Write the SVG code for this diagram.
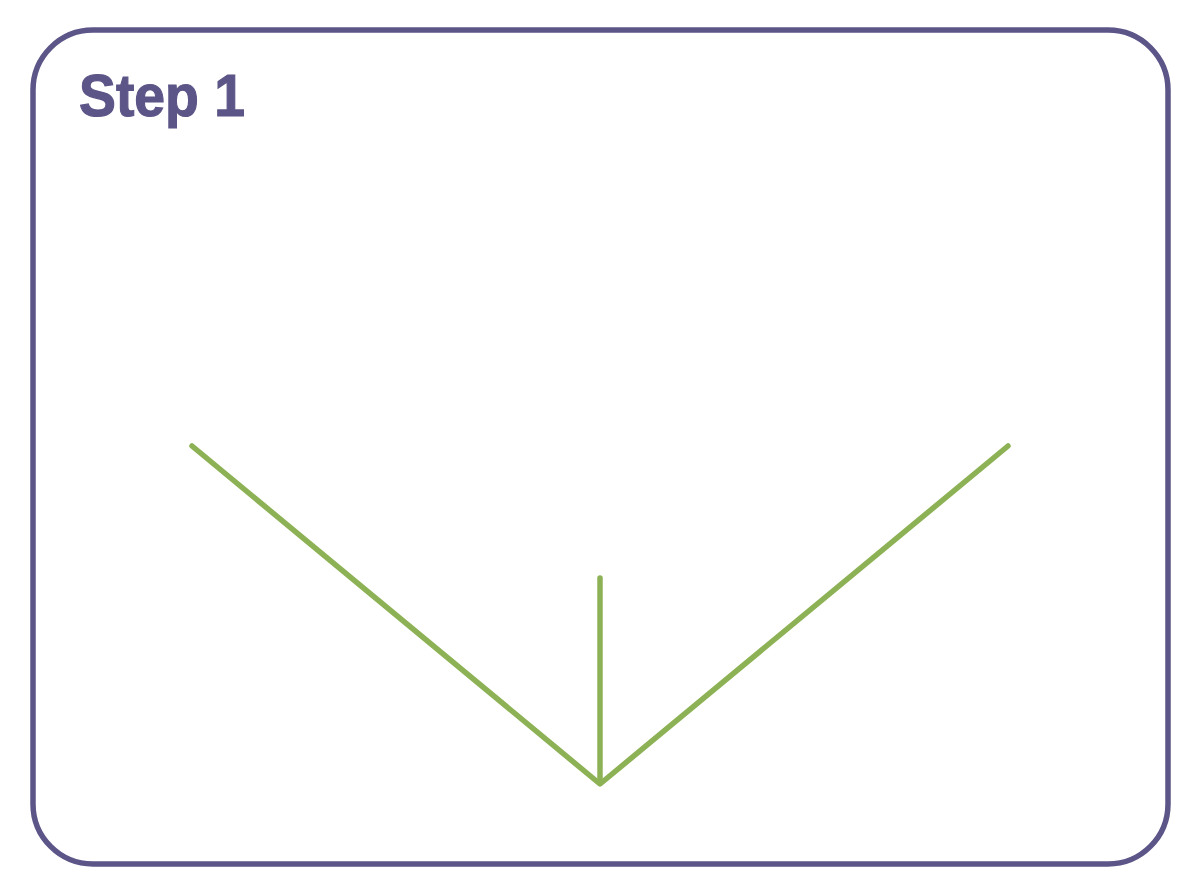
<svg xmlns="http://www.w3.org/2000/svg" width="1200" height="896" viewBox="0 0 1200 896">
<style>
.frame{fill:#fff;stroke:#5c5587;stroke-width:5.5}
.title{font-family:"Liberation Sans",Arial,sans-serif;font-weight:bold;font-size:60px;fill:#5c5587;stroke:#5c5587;stroke-width:1.2}
.stem{fill:none;stroke:#8db255;stroke-width:5.5;stroke-linecap:round;stroke-linejoin:round}
</style>
<rect width="1200" height="896" fill="#fff"/>
<g id="frame">
<rect class="frame" x="33" y="30" width="1135" height="834" rx="60" ry="60"/>
<text class="title" x="79" y="116" textLength="166" lengthAdjust="spacingAndGlyphs">Step 1</text>
</g>
<g id="connectors">
<polyline class="stem" points="192,446 600,784 1008,446"/>
<line class="stem" x1="600" y1="578" x2="600" y2="782"/>
</g>
</svg>
